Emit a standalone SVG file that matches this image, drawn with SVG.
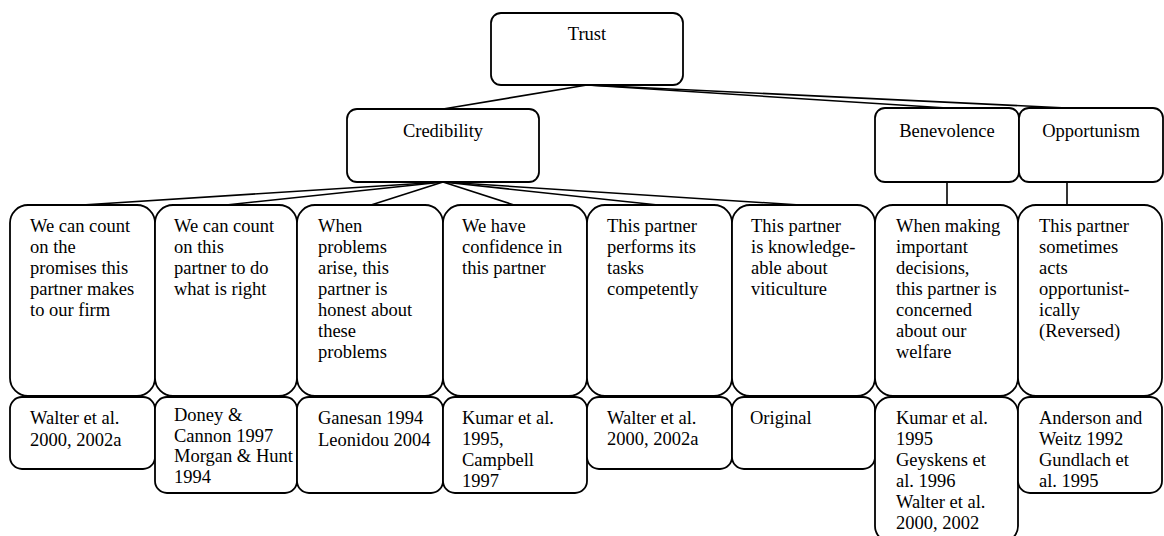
<svg xmlns="http://www.w3.org/2000/svg" width="1164" height="536" viewBox="0 0 1164 536">
<style>
.box{fill:#fff;stroke:#000;stroke-width:1.8}
.ln{fill:none;stroke:#000;stroke-width:1.6}
text{font-family:"Liberation Serif","Times New Roman",serif;font-size:18.5px;fill:#000}
.c{text-anchor:middle}
</style>
<rect width="1164" height="536" fill="#fff"/>
<g id="connectors">
<line class="ln" x1="587" y1="85" x2="443" y2="109"/>
<line class="ln" x1="587" y1="85" x2="947" y2="108"/>
<line class="ln" x1="587" y1="85" x2="1067" y2="108"/>
<line class="ln" x1="443" y1="182" x2="82" y2="205"/>
<line class="ln" x1="443" y1="182" x2="226" y2="205"/>
<line class="ln" x1="443" y1="182" x2="371" y2="205"/>
<line class="ln" x1="443" y1="182" x2="514" y2="205"/>
<line class="ln" x1="443" y1="182" x2="658" y2="205"/>
<line class="ln" x1="443" y1="182" x2="800" y2="205"/>
<line class="ln" x1="947" y1="182" x2="947" y2="205"/>
<line class="ln" x1="1067" y1="182" x2="1067" y2="205"/>
</g>
<g id="trust"><rect class="box" x="491" y="13" width="192" height="72" rx="10"/><text class="c" x="587" y="40">Trust</text></g>
<g id="credibility"><rect class="box" x="347" y="109" width="192" height="73" rx="10"/><text class="c" x="443" y="137">Credibility</text></g>
<g id="benevolence"><rect class="box" x="875" y="108" width="144" height="74" rx="10"/><text class="c" x="947" y="137">Benevolence</text></g>
<g id="opportunism"><rect class="box" x="1019" y="108" width="144" height="74" rx="10"/><text class="c" x="1091" y="137">Opportunism</text></g>

<g id="item1"><rect class="box" x="10" y="205" width="145" height="191" rx="18"/>
<text x="30" y="231.5"><tspan x="30">We can count</tspan><tspan x="30" dy="21">on the</tspan><tspan x="30" dy="21">promises this</tspan><tspan x="30" dy="21">partner makes</tspan><tspan x="30" dy="21">to our firm</tspan></text></g>
<g id="item2"><rect class="box" x="155" y="205" width="142" height="191" rx="18"/>
<text x="174" y="231.5"><tspan x="174">We can count</tspan><tspan x="174" dy="21">on this</tspan><tspan x="174" dy="21">partner to do</tspan><tspan x="174" dy="21">what is right</tspan></text></g>
<g id="item3"><rect class="box" x="297" y="205" width="146" height="191" rx="18"/>
<text x="318" y="231.5"><tspan x="318">When</tspan><tspan x="318" dy="21">problems</tspan><tspan x="318" dy="21">arise, this</tspan><tspan x="318" dy="21">partner is</tspan><tspan x="318" dy="21">honest about</tspan><tspan x="318" dy="21">these</tspan><tspan x="318" dy="21">problems</tspan></text></g>
<g id="item4"><rect class="box" x="443" y="205" width="144" height="191" rx="18"/>
<text x="462" y="231.5"><tspan x="462">We have</tspan><tspan x="462" dy="21">confidence in</tspan><tspan x="462" dy="21">this partner</tspan></text></g>
<g id="item5"><rect class="box" x="587" y="205" width="145" height="191" rx="18"/>
<text x="607" y="231.5"><tspan x="607">This partner</tspan><tspan x="607" dy="21">performs its</tspan><tspan x="607" dy="21">tasks</tspan><tspan x="607" dy="21">competently</tspan></text></g>
<g id="item6"><rect class="box" x="732" y="205" width="143" height="191" rx="18"/>
<text x="751" y="231.5"><tspan x="751">This partner</tspan><tspan x="751" dy="21">is knowledge-</tspan><tspan x="751" dy="21">able about</tspan><tspan x="751" dy="21">viticulture</tspan></text></g>
<g id="item7"><rect class="box" x="875" y="205" width="143" height="191" rx="18"/>
<text x="896" y="231.5"><tspan x="896">When making</tspan><tspan x="896" dy="21">important</tspan><tspan x="896" dy="21">decisions,</tspan><tspan x="896" dy="21">this partner is</tspan><tspan x="896" dy="21">concerned</tspan><tspan x="896" dy="21">about our</tspan><tspan x="896" dy="21">welfare</tspan></text></g>
<g id="item8"><rect class="box" x="1018" y="205" width="144" height="191" rx="18"/>
<text x="1039" y="231.5"><tspan x="1039">This partner</tspan><tspan x="1039" dy="21">sometimes</tspan><tspan x="1039" dy="21">acts</tspan><tspan x="1039" dy="21">opportunist-</tspan><tspan x="1039" dy="21">ically</tspan><tspan x="1039" dy="21">(Reversed)</tspan></text></g>

<g id="ref1"><rect class="box" x="10" y="397" width="145" height="72" rx="12"/>
<text y="424"><tspan x="30">Walter et al.</tspan><tspan x="30" dy="21.5">2000, 2002a</tspan></text></g>
<g id="ref2"><rect class="box" x="155" y="397" width="142" height="96" rx="12"/>
<text y="421"><tspan x="174">Doney &amp;</tspan><tspan x="174" dy="20.7">Cannon 1997</tspan><tspan x="174" dy="20.7">Morgan &amp; Hunt</tspan><tspan x="174" dy="20.7">1994</tspan></text></g>
<g id="ref3"><rect class="box" x="297" y="397" width="146" height="96" rx="12"/>
<text y="424"><tspan x="318">Ganesan 1994</tspan><tspan x="318" dy="21.5">Leonidou 2004</tspan></text></g>
<g id="ref4"><rect class="box" x="443" y="397" width="144" height="96" rx="12"/>
<text y="423.5"><tspan x="462">Kumar et al.</tspan><tspan x="462" dy="21.2">1995,</tspan><tspan x="462" dy="21.2">Campbell</tspan><tspan x="462" dy="21.2">1997</tspan></text></g>
<g id="ref5"><rect class="box" x="587" y="397" width="145" height="72" rx="12"/>
<text y="423.5"><tspan x="607">Walter et al.</tspan><tspan x="607" dy="21.5">2000, 2002a</tspan></text></g>
<g id="ref6"><rect class="box" x="732" y="397" width="143" height="72" rx="12"/>
<text x="750" y="423.5">Original</text></g>
<g id="ref7"><rect class="box" x="875" y="397" width="143" height="145" rx="16"/>
<text y="423.5"><tspan x="896">Kumar et al.</tspan><tspan x="896" dy="21">1995</tspan><tspan x="896" dy="21">Geyskens et</tspan><tspan x="896" dy="21">al. 1996</tspan><tspan x="896" dy="21">Walter et al.</tspan><tspan x="896" dy="21">2000, 2002</tspan></text></g>
<g id="ref8"><rect class="box" x="1018" y="397" width="144" height="96" rx="12"/>
<text y="423.5"><tspan x="1039">Anderson and</tspan><tspan x="1039" dy="21.2">Weitz 1992</tspan><tspan x="1039" dy="21.2">Gundlach et</tspan><tspan x="1039" dy="21.2">al. 1995</tspan></text></g>
</svg>
